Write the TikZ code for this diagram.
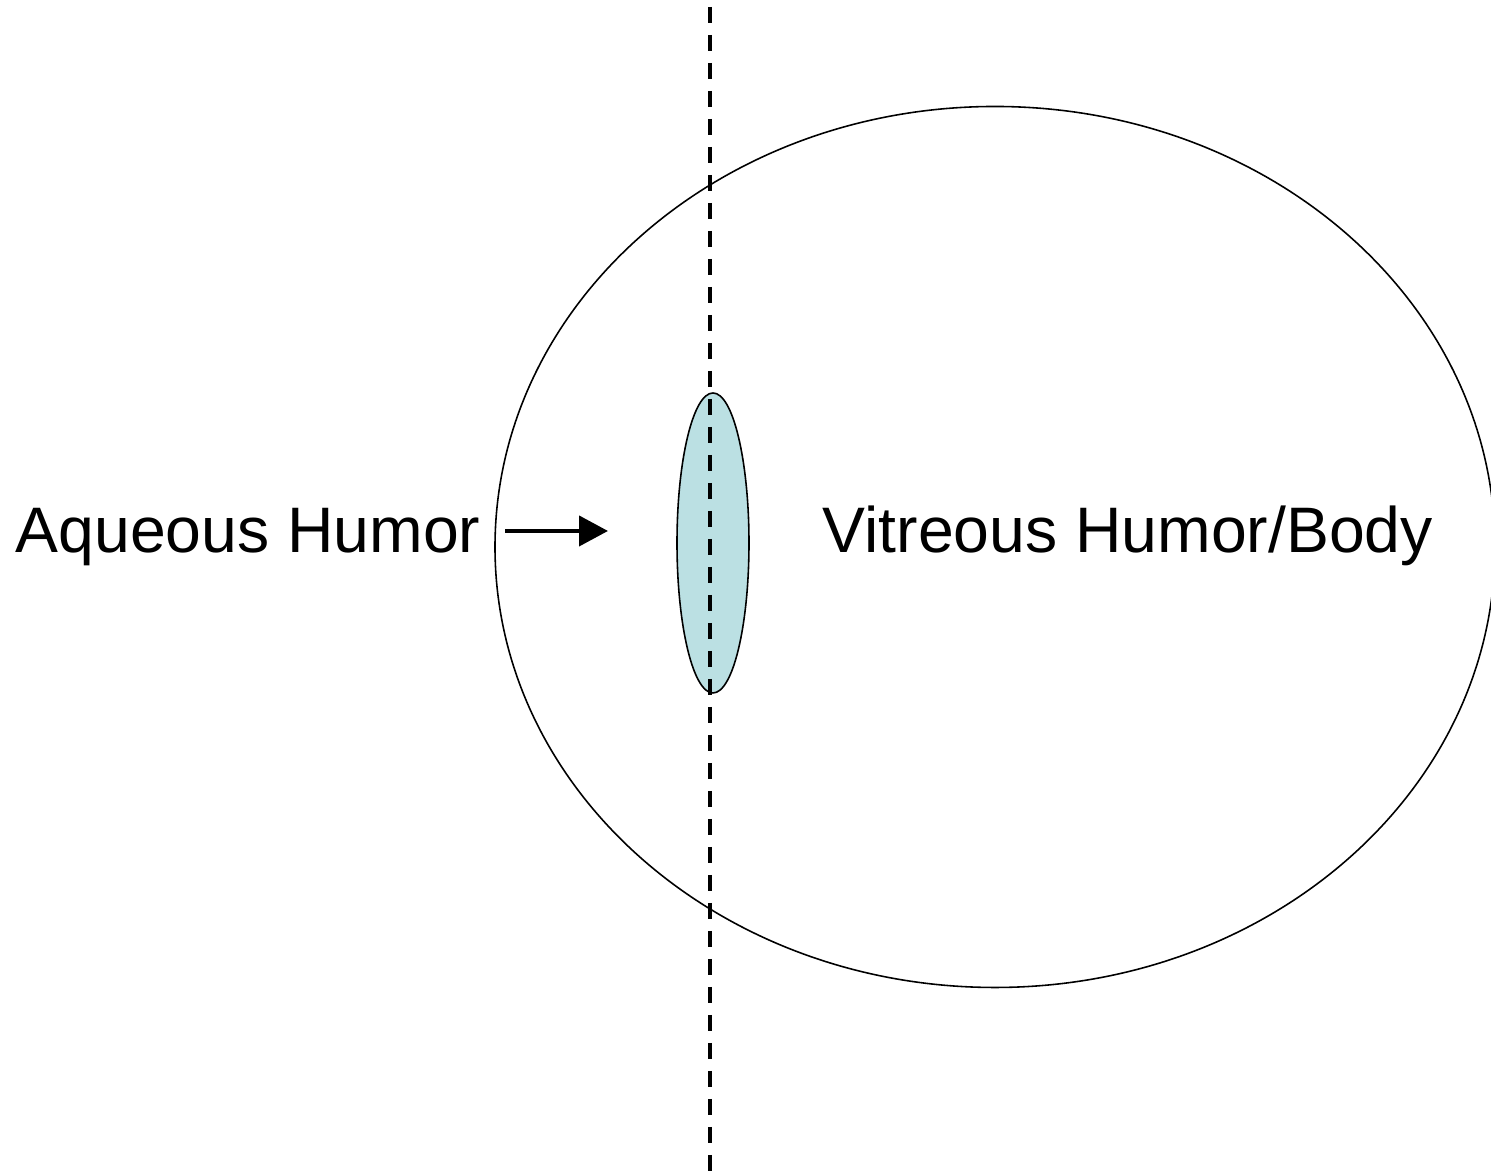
\documentclass[tikz,border=0pt]{standalone}
\usepackage{fontspec}
\setmainfont{Liberation Sans}
\usepackage{tikz}
\usetikzlibrary{arrows.meta, positioning, shapes.geometric}
\usepackage{xcolor}
\definecolor{lensblue}{RGB}{187,224,227}

\begin{document}
\begin{tikzpicture}[
  label/.style={font=\fontsize{18.3}{22}\selectfont, inner sep=0pt},
  globe/.style={draw, ellipse, line width=0.45pt, inner sep=0pt},
  axis/.style={line width=1.2pt, dash pattern=on 0.16cm off 0.12cm,
    dash phase=0.21cm},
  flow/.style={-{Triangle[length=0.29cm, width=0.3cm]}, line width=1.2pt},
  >=Stealth
]
  \useasboundingbox (0,0) rectangle (14.91,11.73);

  % Eye
  \node[globe, minimum width=10.0cm, minimum height=8.81cm] (eye)
    at (9.95, 6.26) {};

  % Lens
  \node[globe, fill=lensblue, minimum width=0.72cm, minimum height=3.0cm]
    (lens) at (7.13, 6.30) {};

  % Optical axis
  \coordinate (axtop) at (7.10, 11.73);
  \coordinate (axbot) at (7.10, 0);
  \draw[axis] (axtop) -- (axbot);

  % Labels
  \node[label, anchor=base west] (aqueous) at (0.15, 6.20) {Aqueous Humor};
  \node[label, anchor=base west] (vitreous) at (8.22, 6.20)
    {Vitreous Humor/Body};

  % Arrow
  \coordinate (tail) at (5.05, 6.42);
  \coordinate (tip) at (6.08, 6.42);
  \draw[flow] (tail) -- (tip);
\end{tikzpicture}
\end{document}
